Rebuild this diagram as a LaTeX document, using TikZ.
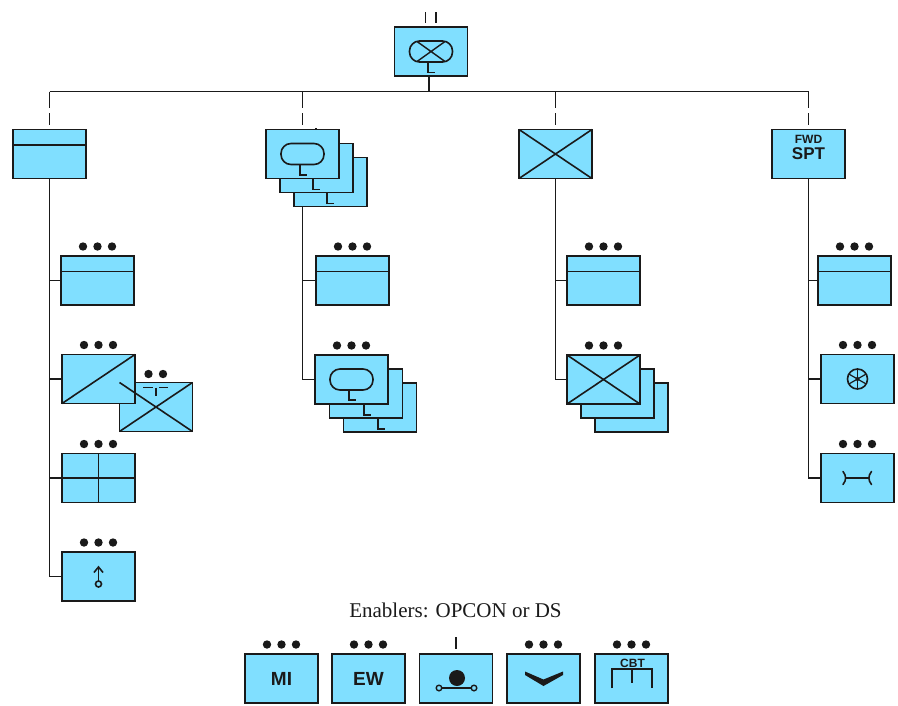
\documentclass[tikz,border=0pt]{standalone}
\usepackage{fontspec}
\setmainfont{Liberation Serif}
\newfontfamily\lsans{Liberation Sans}
\usetikzlibrary{backgrounds}
\definecolor{unitblue}{HTML}{80DFFF}
\definecolor{ink}{HTML}{1A1A1A}
\tikzset{
  unit/.style={draw=ink,fill=unitblue,line width=1.9pt,minimum width=73pt,minimum height=49pt,inner sep=0pt,outer sep=0pt},
  sym/.style={draw=ink,line width=1.6pt,line cap=round},
  wire/.style={draw=ink,line width=1.7pt},
  dropline/.style={wire,dash pattern=on 16.5pt off 5pt on 12pt off 20pt},
  symtext/.style={font=\lsans\bfseries,text=ink,inner sep=0pt}
}
\newcommand{\threedots}[1]{%
  \fill[ink] ([shift={(-14.5,-9.5)}]#1.north) circle (4.2pt);
  \fill[ink] ([shift={(0,-9.5)}]#1.north) circle (4.2pt);
  \fill[ink] ([shift={(14.5,-9.5)}]#1.north) circle (4.2pt);}
\newcommand{\ovalsym}[1]{%
  \draw[sym,rounded corners=10pt] ([shift={(-21.5,-10.5)}]#1.center) rectangle ([shift={(21.5,10.5)}]#1.center);}
\newcommand{\ellmark}[2]{% node, x/y offset from the node centre
  \draw[sym,line width=1.5pt,line cap=butt] ([shift={(#2)}]#1.center) -- ++(0,10.5) -- ++(6.5,0);}
\newcommand{\headerline}[1]{%
  \draw[sym,line cap=butt] ([yshift=-15.5pt]#1.north west) -- ([yshift=-15.5pt]#1.north east);}
\newcommand{\crossmark}[1]{%
  \draw[sym,line cap=butt] (#1.north west) -- (#1.south east) (#1.south west) -- (#1.north east);}
\begin{document}
\begin{tikzpicture}[x=1pt,y=-1pt]
\useasboundingbox (0,0) rectangle (898,705);
\coordinate (bus) at (430,91.5);
% command
\node[unit] (top) at (431,51.5) {};
% second row
\node[unit] (c1) at (49.5,154) {};
\node[unit] (c2c) at (330.5,182) {};
\node[unit] (c2b) at (316.5,168) {};
\node[unit] (c2) at (302.5,154) {};
\node[unit] (c3) at (555.5,154) {};
\node[unit] (c4) at (808.5,154) {};
% column 1
\node[unit] (a1) at (97.5,280.5) {};
\node[unit] (a2x) at (156,407) {};
\node[unit] (a2) at (98.5,379) {};
\node[unit] (a3) at (98.5,478) {};
\node[unit] (a4) at (98.5,576.5) {};
% column 2
\node[unit] (b1) at (352.5,280.5) {};
\node[unit] (b2c) at (380,407.5) {};
\node[unit] (b2b) at (366,393.5) {};
\node[unit] (b2) at (351.5,379.5) {};
% column 3
\node[unit] (d1) at (603.5,280.5) {};
\node[unit] (d2c) at (631.5,407.5) {};
\node[unit] (d2b) at (617.5,393.5) {};
\node[unit] (d2) at (603.5,379.5) {};
% column 4
\node[unit] (e1) at (854.5,280.5) {};
\node[unit] (e2) at (857.5,379) {};
\node[unit] (e3) at (857.5,478) {};
% enablers
\node[font=\fontsize{21}{21}\selectfont,text=ink,inner sep=0pt] (entitle) at (455.5,610) {Enablers: OPCON or DS};
\node[unit,symtext,font=\lsans\bfseries\fontsize{19}{19}\selectfont] (mi) at (281.5,678.5) {MI};
\node[unit,symtext,font=\lsans\bfseries\fontsize{19}{19}\selectfont] (ew) at (368.5,678.5) {EW};
\node[unit] (en3) at (456,678.5) {};
\node[unit] (en4) at (543.5,678.5) {};
\node[unit] (en5) at (631.5,678.5) {};
% connectors
\begin{scope}[on background layer]
  \draw[wire] (top.south) ++(-2,0) -- (429,91.5);
  \draw[wire] (c1.north |- bus) -- (c4.north |- bus);
  \draw[dropline] (c1.north |- bus) -- (c1.north);
  \draw[dropline] (c2.north |- bus) -- (c2.north);
  \draw[dropline] (c3.north |- bus) -- (c3.north);
  \draw[dropline] (c4.north |- bus) -- (c4.north);
  \draw[wire] (c1.south) |- (a1.west);
  \draw[wire] (c1.south) |- (a2.west);
  \draw[wire] (c1.south) |- (a3.west);
  \draw[wire] (c1.south) |- (a4.west);
  \draw[wire] (c2.south) |- (b1.west);
  \draw[wire] (c2.south) |- (b2.west);
  \draw[wire] (c3.south) |- (d1.west);
  \draw[wire] (c3.south) |- (d2.west);
  \draw[wire] (c4.south) |- (e1.west);
  \draw[wire] (c4.south) |- (e2.west);
  \draw[wire] (c4.south) |- (e3.west);
\end{scope}
% top symbol
\draw[sym,line cap=butt] ([shift={(-2.5,-25.5)}]top.center) ++(-3,-14) -- ++(0,11);
\draw[sym,line cap=butt] ([shift={(6.7,-25.5)}]top.center) ++(-2,-14) -- ++(0,11);
\ovalsym{top}
\draw[sym,line width=1.4pt,line cap=butt] ([shift={(-14,-10)}]top.center) -- ([shift={(14,10)}]top.center) ([shift={(-14,10)}]top.center) -- ([shift={(14,-10)}]top.center);
\ellmark{top}{-3,10.5}
% row two symbols
\headerline{c1}
\draw[sym,line width=1.2pt,line cap=butt] ([xshift=13.5pt]c2.north) -- ++(0,-2);
\ovalsym{c2}
\ellmark{c2}{-2.5,10.5}
\ellmark{c2b}{-3.5,11}
\ellmark{c2c}{-3.5,11}
\crossmark{c3}
\node[symtext,font=\lsans\bfseries\fontsize{12}{12}\selectfont] (fwd) at (808.5,139) {FWD};
\node[symtext,font=\lsans\bfseries\fontsize{17}{17}\selectfont] (spt) at (808.5,153.5) {SPT};
% column 1 symbols
\headerline{a1}\threedots{a1}
\draw[sym,line cap=butt] (a2.south west) -- (a2.north east);\threedots{a2}
\crossmark{a2x}
\fill[ink] ([shift={(-7.5,-8.5)}]a2x.north) circle (4.2pt);
\fill[ink] ([shift={(7,-8.5)}]a2x.north) circle (4.2pt);
\draw[sym,line cap=butt] ([shift={(-13,5)}]a2x.north) -- ([shift={(-3,5)}]a2x.north);
\draw[sym,line cap=butt] ([shift={(3,5)}]a2x.north) -- ([shift={(12,5)}]a2x.north);
\draw[sym,line cap=butt] ([shift={(0,5)}]a2x.north) -- ([shift={(0,13)}]a2x.north);
\draw[sym,line cap=butt] (a3.north) -- (a3.south) (a3.west) -- (a3.east);\threedots{a3}
\threedots{a4}
\draw[sym,line cap=butt] ([shift={(0,4.5)}]a4.center) -- ([shift={(0,-9.5)}]a4.center);
\draw[sym,line cap=butt,line join=miter] ([shift={(-4.5,-4)}]a4.center) -- ([shift={(0,-9.5)}]a4.center) -- ([shift={(4.5,-4)}]a4.center);
\draw[sym,fill=unitblue] ([shift={(0,7.5)}]a4.center) circle (3pt);
% column 2 symbols
\headerline{b1}\threedots{b1}
\ovalsym{b2}
\ellmark{b2}{-2.5,10}
\ellmark{b2b}{-2,11}
\ellmark{b2c}{-2,11}
\threedots{b2}
% column 3 symbols
\headerline{d1}\threedots{d1}
\crossmark{d2}\threedots{d2}
% column 4 symbols
\headerline{e1}\threedots{e1}
\threedots{e2}
\draw[sym] (e2.center) circle (10pt);
\foreach \ang in {30,90,150,210,270,330}{\draw[sym,line width=1.2pt,line cap=butt] (e2.center) -- ++(\ang:10);}
\fill[ink] (e2.center) circle (2pt);
\threedots{e3}
\draw[sym,line cap=butt] ([shift={(-12,0)}]e3.center) -- ([shift={(11,0)}]e3.center);
\draw[sym] ([shift={(-14.5,-6.5)}]e3.center) .. controls ([shift={(-11,-2)}]e3.center) and ([shift={(-11,2)}]e3.center) .. ([shift={(-14.5,6.5)}]e3.center);
\draw[sym] ([shift={(14,-6.5)}]e3.center) .. controls ([shift={(10.5,-2)}]e3.center) and ([shift={(10.5,2)}]e3.center) .. ([shift={(14,6.5)}]e3.center);
% enablers symbols
\threedots{mi}\threedots{ew}
\draw[sym,line cap=butt] ([shift={(0,-17)}]en3.north) -- ([shift={(0,-5)}]en3.north);
\fill[ink] ([shift={(1,-0.5)}]en3.center) circle (8pt);
\draw[sym] ([shift={(-14,9.5)}]en3.center) -- ([shift={(15,9.5)}]en3.center);
\draw[sym,fill=unitblue,line width=1.4pt] ([shift={(-17,9.5)}]en3.center) circle (2.8pt);
\draw[sym,fill=unitblue,line width=1.4pt] ([shift={(18,9.5)}]en3.center) circle (2.8pt);
\threedots{en4}
\fill[ink] ([shift={(-18.5,-7)}]en4.center) -- ([shift={(0,1)}]en4.center) -- ([shift={(19.5,-7)}]en4.center) -- ([shift={(19.5,-3.5)}]en4.center) -- ([shift={(0,7.5)}]en4.center) -- ([shift={(-18.5,-3.5)}]en4.center) -- cycle;
\threedots{en5}
\node[symtext,font=\lsans\bfseries\fontsize{12}{12}\selectfont] (cbt) at ([shift={(1,-15.5)}]en5.center) {CBT};
\draw[sym,line cap=butt,line join=miter] ([shift={(-19.5,9.5)}]en5.center) -- ([shift={(-19.5,-9.5)}]en5.center) -- ([shift={(20.5,-9.5)}]en5.center) -- ([shift={(20.5,9.5)}]en5.center);
\draw[sym,line cap=butt] ([shift={(0.5,-9.5)}]en5.center) -- ([shift={(0.5,4.5)}]en5.center);
\end{tikzpicture}
\end{document}
